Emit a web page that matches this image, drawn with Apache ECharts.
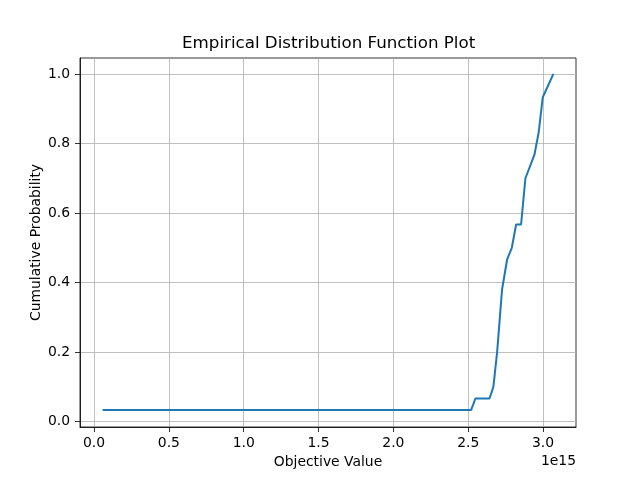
<!DOCTYPE html>
<html>
<head>
<meta charset="utf-8">
<script src="https://cdn.jsdelivr.net/npm/echarts@6/dist/echarts.min.js"></script>
<style>
html, body { margin: 0; padding: 0; background: #fff; }
#chart { width: 640px; height: 480px; }
</style>
</head>
<body>
<div id="chart"></div>
<script>
// objective values in units of 1e15, and the cumulative probability at each
const objectiveValues = [0.057, 2.519, 2.548, 2.642, 2.668, 2.693, 2.726, 2.760, 2.791, 2.820, 2.853, 2.882, 2.942, 2.971, 2.998, 3.069];
const cumulativeProb = [0.0333, 0.0333, 0.0667, 0.0667, 0.1, 0.2, 0.38, 0.467, 0.5, 0.567, 0.567, 0.7, 0.767, 0.833, 0.933, 1.0];
const xTicks = [0.0, 0.5, 1.0, 1.5, 2.0, 2.5, 3.0];
const yTicks = [0.0, 0.2, 0.4, 0.6, 0.8, 1.0];

const font = 'DejaVu Sans';
let myChart = echarts.init(document.getElementById('chart'), null, { renderer: 'canvas' });

let lineData = objectiveValues.map((v, i) => [v, cumulativeProb[i]]);

myChart.setOption({
    backgroundColor: '#ffffff',
    animation: false,
    grid: {
        left: 80,
        right: 64,
        top: 58,
        bottom: 53,
        show: true,
        borderColor: '#000',
        borderWidth: 0.8,
        backgroundColor: 'transparent'
    },
    graphic: [
        {
            type: 'text',
            left: 328 - 146,
            top: 35,
            style: { text: 'Empirical Distribution Function Plot', font: '16.7px "DejaVu Sans"', fill: '#000' }
        },
        {
            type: 'text',
            right: 64,
            top: 454,
            style: { text: '1e15', font: '13.9px "DejaVu Sans"', fill: '#000', textAlign: 'right' }
        }
    ],
    xAxis: {
        type: 'value',
        min: -0.094,
        max: 3.22,
        name: 'Objective Value',
        nameLocation: 'middle',
        nameGap: 28,
        nameTextStyle: { fontFamily: font, fontSize: 13.9, color: '#000' },
        axisLine: { show: true, onZero: false, lineStyle: { color: '#000', width: 0.8 } },
        axisTick: { show: true, length: 5, customValues: xTicks, lineStyle: { color: '#000', width: 0.8 } },
        axisLabel: {
            customValues: xTicks,
            fontFamily: font, fontSize: 13.9, color: '#000', margin: 9,
            formatter: v => v.toFixed(1)
        },
        splitLine: { show: true, lineStyle: { color: '#b0b0b0', width: 0.8 } }
    },
    yAxis: {
        type: 'value',
        min: -0.0153,
        max: 1.0458,
        name: 'Cumulative Probability',
        nameLocation: 'middle',
        nameGap: 37,
        nameMoveOverlap: false,
        nameTextStyle: { fontFamily: font, fontSize: 13.9, color: '#000' },
        axisLine: { show: true, onZero: false, lineStyle: { color: '#000', width: 0.8 } },
        axisTick: { show: true, length: 5, customValues: yTicks, lineStyle: { color: '#000', width: 0.8 } },
        axisLabel: {
            customValues: yTicks,
            fontFamily: font, fontSize: 13.9, color: '#000', margin: 10,
            formatter: v => v.toFixed(1)
        },
        splitLine: { show: true, lineStyle: { color: '#b0b0b0', width: 0.8 } }
    },
    series: [
        {
            name: 'ECDF',
            type: 'line',
            data: lineData,
            showSymbol: false,
            symbol: 'none',
            lineStyle: { color: '#1f77b4', width: 2 },
            clip: true
        }
    ]
});
</script>
</body>
</html>
